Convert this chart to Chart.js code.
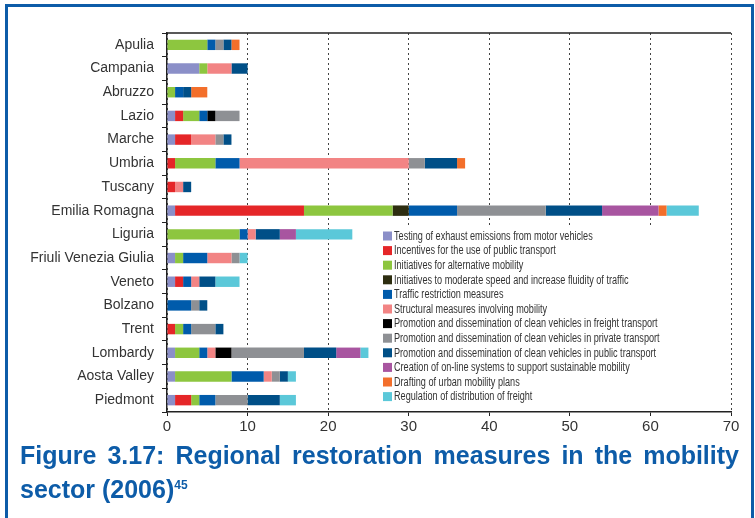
<!DOCTYPE html>
<html>
<head>
<meta charset="utf-8">
<script src="https://cdn.jsdelivr.net/npm/chart.js@4.4.1/dist/chart.umd.min.js"></script>
<style>
  html, body { margin: 0; padding: 0; background: #fff; overflow: hidden; width: 755px; height: 518px; }
  #frame { position: absolute; left: 5px; top: 4px; width: 749px; height: 700px; border: 3px solid #0d5ca8; box-sizing: border-box; }
  #wrap { position: absolute; left: 0; top: 0; width: 755px; height: 440px; }
  #title { position: absolute; left: 20px; top: 438px; width: 719px; font-family: 'Liberation Sans', sans-serif; font-weight: bold; font-size: 25px; line-height: 34px; color: #0d5ca8; text-align: justify; }
  #title sup { font-size: 12px; vertical-align: top; position: relative; top: -4px; }
</style>
</head>
<body>
<div id="frame"></div>
<div id="wrap"><canvas id="c" width="755" height="440"></canvas></div>
<div id="title">Figure 3.17: Regional restoration measures in the mobility sector (2006)<sup>45</sup></div>
<script>
const regions = ["Apulia","Campania","Abruzzo","Lazio","Marche","Umbria","Tuscany","Emilia Romagna","Liguria","Friuli Venezia Giulia","Veneto","Bolzano","Trent","Lombardy","Aosta Valley","Piedmont"];
const xTicks = [0,10,20,30,40,50,60,70];

const seriesNames = [
  "Testing of exhaust emissions from motor vehicles",
  "Incentives for the use of public transport",
  "Initiatives for alternative mobility",
  "Initiatives to moderate speed and increase fluidity of traffic",
  "Traffic restriction measures",
  "Structural measures involving mobility",
  "Promotion and dissemination of clean vehicles in freight transport",
  "Promotion and dissemination of clean vehicles in private transport",
  "Promotion and dissemination of clean vehicles in public transport",
  "Creation of on-line systems to support sustainable mobility",
  "Drafting of urban mobility plans",
  "Regulation of distribution of freight"
];
const seriesColors = ["#8b8fc8","#e52628","#8dc63f","#2d2d10","#005bab","#f28484","#000000","#8e9094","#004f87","#a855a0","#f36f2b","#5bc8d9"];

// order: Apulia, Campania, Abruzzo, Lazio, Marche, Umbria, Tuscany, Emilia Romagna, Liguria, Friuli VG, Veneto, Bolzano, Trent, Lombardy, Aosta Valley, Piedmont
const testing      = [0,4,0,1,1,0,0,1,0,1,1,0,0,1,1,1];
const incentives   = [0,0,0,1,2,1,1,16,0,0,1,0,1,0,0,2];
const alternative  = [5,1,1,2,0,5,0,11,9,1,0,0,1,3,7,1];
const moderate     = [0,0,0,0,0,0,0,2,0,0,0,0,0,0,0,0];
const restriction  = [1,0,1,1,0,3,0,6,1,3,1,3,1,1,4,2];
const structural   = [0,3,0,0,3,21,1,0,1,3,1,0,0,1,1,0];
const freightClean = [0,0,0,1,0,0,0,0,0,0,0,0,0,2,0,0];
const privateClean = [1,0,0,3,1,2,0,11,0,1,0,1,3,9,1,4];
const publicClean  = [1,2,1,0,1,4,1,7,3,0,2,1,1,4,1,4];
const online       = [0,0,0,0,0,0,0,7,2,0,0,0,0,3,0,0];
const urbanPlans   = [1,0,2,0,0,1,0,1,0,0,0,0,0,0,0,0];
const freightReg   = [0,0,0,0,0,0,0,4,7,1,3,0,0,1,1,2];

const seriesValues = [testing,incentives,alternative,moderate,restriction,structural,freightClean,privateClean,publicClean,online,urbanPlans,freightReg];

const FONT = "'Liberation Sans', sans-serif";

const legendPlugin = {
  id: 'inlineLegend',
  afterDraw(chart) {
    const ctx = chart.ctx;
    const area = chart.chartArea;
    ctx.save();
    // top frame line
    ctx.strokeStyle = '#222';
    ctx.lineWidth = 1.5;
    ctx.beginPath();
    ctx.moveTo(area.left, area.top);
    ctx.lineTo(area.right, area.top);
    ctx.stroke();
    // legend background box (hides grid lines behind legend)
    ctx.fillStyle = '#fff';
    ctx.fillRect(378, 228, 312, area.bottom - 2 - 228);
    // legend
    const x0 = 383, y0 = 236, step = 14.6, sx = 0.76;
    ctx.font = "12px " + FONT;
    ctx.textBaseline = 'middle';
    ctx.textAlign = 'left';
    chart.data.datasets.forEach((ds, i) => {
      const y = y0 + i * step;
      ctx.fillStyle = ds.backgroundColor;
      ctx.fillRect(x0, y - 4.5, 9, 9);
      ctx.save();
      ctx.translate(x0 + 11, y + 0.5);
      ctx.scale(sx, 1);
      ctx.fillStyle = '#333';
      ctx.fillText(ds.label, 0, 0);
      ctx.restore();
    });
    ctx.restore();
  }
};

new Chart(document.getElementById('c'), {
  type: 'bar',
  data: {
    labels: regions,
    datasets: seriesNames.map((name, i) => ({
      label: name,
      data: seriesValues[i],
      backgroundColor: seriesColors[i],
      borderWidth: 0,
      barPercentage: 0.44,
      categoryPercentage: 1.0
    }))
  },
  options: {
    indexAxis: 'y',
    responsive: false,
    animation: false,
    layout: { padding: { top: 33, right: 24, left: 0, bottom: 0 } },
    plugins: { legend: { display: false }, tooltip: { enabled: false } },
    scales: {
      x: {
        stacked: true,
        min: 0, max: 70,
        afterBuildTicks(scale) { scale.ticks = xTicks.map(v => ({ value: v })); },
        afterFit(scale) { scale.height = 28; },
        grid: { color: '#444', lineWidth: 1, tickLength: 4, tickColor: '#222' },
        border: { display: true, color: '#222', width: 1.5, dash: [2, 3] },
        ticks: { color: '#333', font: { family: FONT, size: 15 }, padding: 2 }
      },
      y: {
        stacked: true,
        afterFit(scale) { scale.width = 167; },
        grid: { offset: true, drawOnChartArea: false, tickLength: 5, color: '#222' },
        border: { display: true, color: '#222', width: 1.5 },
        ticks: { color: '#333', font: { family: FONT, size: 14 }, padding: 8 }
      }
    }
  },
  plugins: [legendPlugin]
});
</script>
</body>
</html>
